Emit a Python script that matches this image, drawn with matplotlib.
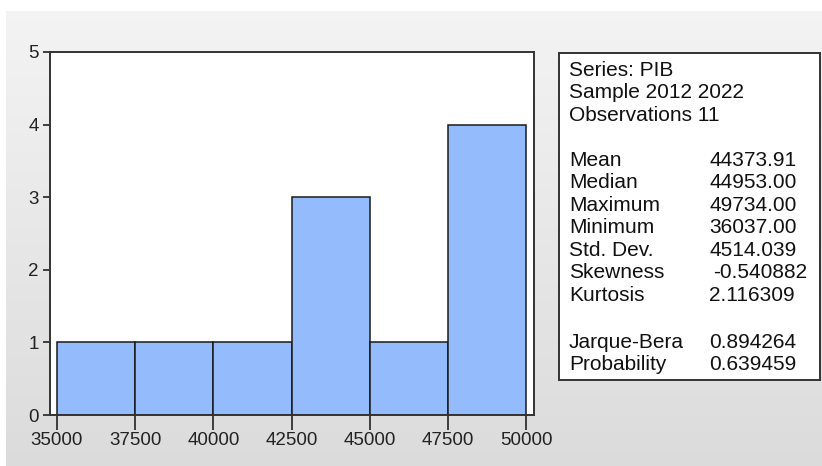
import numpy as np
import matplotlib.pyplot as plt

plt.rcParams['font.family'] = ['Liberation Sans', 'DejaVu Sans']

# histogram of PIB
bin_edges = [35000, 37500, 40000, 42500, 45000, 47500, 50000]
counts = [1, 1, 1, 3, 1, 4]
x_ticks = [35000, 37500, 40000, 42500, 45000, 47500, 50000]
y_ticks = [0, 1, 2, 3, 4, 5]

header_lines = ['Series: PIB', 'Sample 2012 2022', 'Observations 11']
stat_names = ['Mean', 'Median', 'Maximum', 'Minimum', 'Std. Dev.', 'Skewness', 'Kurtosis']
stat_values = ['44373.91', '44953.00', '49734.00', '36037.00', '4514.039', '-0.540882', '2.116309']
test_names = ['Jarque-Bera', 'Probability']
test_values = ['0.894264', '0.639459']

W, H = 822, 466
fig = plt.figure(figsize=(W / 100, H / 100), dpi=100)
fig.patch.set_facecolor('white')

# grey gradient backdrop
bg = fig.add_axes([6 / W, 0, 1 - 6 / W, (H - 11) / H], zorder=-10)
grad = np.linspace(0.955, 0.86, 256).reshape(-1, 1)
bg.imshow(np.dstack([grad, grad, grad]), aspect='auto', extent=[0, 1, 0, 1])
bg.axis('off')

ax = fig.add_axes([50 / W, 1 - 415 / H, (534 - 50) / W, (415 - 52) / H])
ax.set_facecolor('white')
widths = np.diff(bin_edges)
ax.bar(bin_edges[:-1], counts, width=widths, align='edge',
       color='#94bbfb', edgecolor='#1a1a1a', linewidth=1.1)
ax.set_xlim(34780, 50250)
ax.set_ylim(0, 5)
ax.set_xticks(x_ticks)
ax.set_xticklabels([str(t) for t in x_ticks])
ax.set_yticks(y_ticks)
for s in ax.spines.values():
    s.set_linewidth(1.4)
    s.set_color('#333333')
ax.tick_params(axis='x', length=11, width=1.2, labelsize=13.5, pad=1, colors='#222222')
ax.tick_params(axis='y', length=5, width=1.2, labelsize=13.5, pad=3, colors='#222222')

# statistics box
box = fig.add_axes([559 / W, 1 - 380 / H, (820 - 559) / W, (380 - 53) / H])
box.set_xlim(559, 820)
box.set_ylim(380, 53)
box.set_xticks([])
box.set_yticks([])
box.set_facecolor('white')
for s in box.spines.values():
    s.set_linewidth(1.4)
    s.set_color('#333333')

fs = 15
step = 22.6
y = 70
for line in header_lines:
    box.text(569, y, line, fontsize=fs, va='center', ha='left', color='#111111')
    y += step
y = 160
for name, val in zip(stat_names, stat_values):
    box.text(569, y, name, fontsize=fs, va='center', ha='left', color='#111111')
    xv = 709 if not val.startswith('-') else 713
    box.text(xv, y, val, fontsize=fs, va='center', ha='left', color='#111111')
    y += step
y = 342
for name, val in zip(test_names, test_values):
    box.text(569, y, name, fontsize=fs, va='center', ha='left', color='#111111')
    box.text(709, y, val, fontsize=fs, va='center', ha='left', color='#111111')
    y += step

fig.savefig('out.png', dpi=100)
